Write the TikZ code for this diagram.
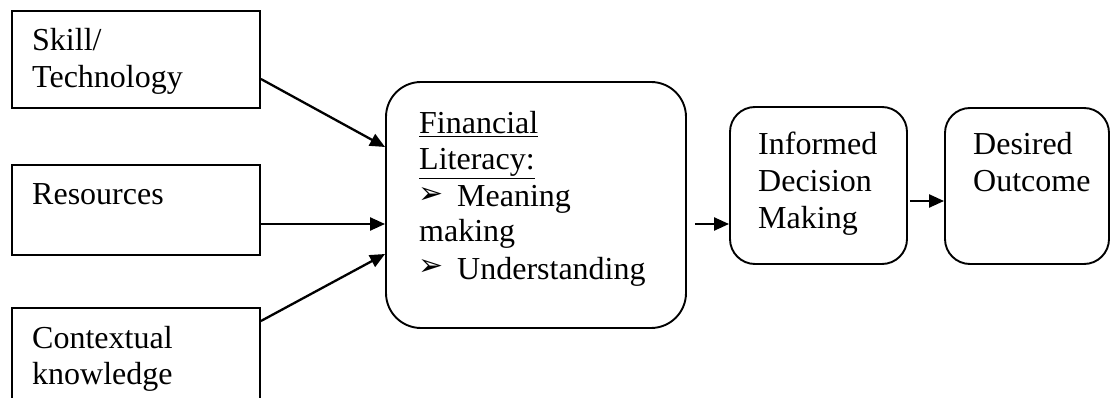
\documentclass[tikz,border=0pt]{standalone}
\usepackage{fontspec}
\setmainfont{Liberation Serif}
\newfontfamily\dejavu{DejaVu Sans}
\usetikzlibrary{arrows.meta}
\tikzset{
  box/.style={draw,line width=1.9pt,inner sep=0pt},
  sqbox/.style={box},
  rbox/.style={box,rounded corners=#1},
  txt/.style={inner sep=0pt,anchor=base west,font=\fontsize{32}{36}\selectfont},
  bul/.style={inner sep=0pt,anchor=base west,font=\dejavu\fontsize{30}{30}\selectfont},
  arr/.style={line width=2.3pt,-{Triangle[length=15pt,width=13pt]}}
}
\begin{document}
\begin{tikzpicture}[x=1pt,y=-1pt]
\useasboundingbox (0,0) rectangle (1111,398);
% boxes
\node[sqbox,minimum width=248pt,minimum height=97pt] (skill) at (136,59.5) {};
\node[sqbox,minimum width=248pt,minimum height=90pt] (res) at (136,210) {};
\node[sqbox,minimum width=248pt,minimum height=112pt] (ctx) at (136,364) {};
\node[rbox=35pt,minimum width=300pt,minimum height=246pt] (lit) at (536,205) {};
\node[rbox=25pt,minimum width=177pt,minimum height=157pt] (inf) at (818.5,185.5) {};
\node[rbox=25pt,minimum width=164pt,minimum height=156pt] (des) at (1027,186) {};
% texts
\node[txt] (t1) at (32,51) {Skill/};
\node[txt] (t2) at (32,88) {Technology};
\node[txt] (t3) at (32,205) {Resources};
\node[txt] (t4) at (32,348) {Contextual};
\node[txt] (t5) at (32,384) {knowledge};
\node[txt] (l1) at (419,134) {\underline{Financial}};
\node[txt] (l2) at (419,170) {\underline{Literacy:}};
\node[bul] (b1) at (418,204) {➢};
\node[txt] (l3) at (457,207) {Meaning};
\node[txt] (l4) at (419,242) {making};
\node[bul] (b2) at (418,276) {➢};
\node[txt] (l5) at (457,279) {Understanding};
\node[txt] (i1) at (758,155) {Informed};
\node[txt] (i2) at (758,192) {Decision};
\node[txt] (i3) at (758,229) {Making};
\node[txt] (d1) at (973,155) {Desired};
\node[txt] (d2) at (973,192) {Outcome};
% arrows
\draw[arr] ([yshift=-19.5pt]skill.east) -- ([yshift=58pt]lit.west);
\draw[arr] ([yshift=-14pt]res.east) -- ([yshift=-19pt]lit.west);
\draw[arr] ([yshift=43pt]ctx.east) -- ([yshift=-49pt]lit.west);
\draw[arr] ([xshift=8pt,yshift=-19pt]lit.east) -- ([yshift=-38.5pt]inf.west);
\draw[arr] ([xshift=2pt,yshift=-15.5pt]inf.east) -- ([yshift=-15pt]des.west);
\end{tikzpicture}
\end{document}
